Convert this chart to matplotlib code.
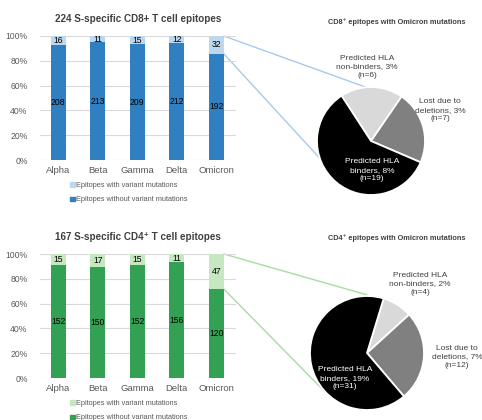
import numpy as np
import matplotlib
matplotlib.use("Agg")
import matplotlib.pyplot as plt
from matplotlib.patches import Patch, ConnectionPatch

plt.rcParams['font.family'] = ['Liberation Sans', 'DejaVu Sans']

variants = ['Alpha', 'Beta', 'Gamma', 'Delta', 'Omicron']

# CD8 epitopes (224 total)
cd8_without = [208, 213, 209, 212, 192]
cd8_with = [16, 11, 15, 12, 32]

# CD4 epitopes (167 total)
cd4_without = [152, 150, 152, 156, 120]
cd4_with = [15, 17, 15, 11, 47]

# Omicron-mutated epitopes breakdown: non-binders, deletions, binders
pie_cd8 = [6, 7, 19]
pie_cd8_pct = [3, 3, 8]
pie_cd4 = [4, 12, 31]
pie_cd4_pct = [2, 7, 19]

txt = '#404040'
tick_col = '#595959'
grid_col = '#d9d9d9'
barW = 0.38

fig = plt.figure(figsize=(4.82, 4.2), dpi=100)


def bar_panel(rect, without, withm, dark, light, title):
    ax = fig.add_axes(rect)
    ax.set_facecolor('none')
    without = np.array(without, dtype=float)
    withm = np.array(withm, dtype=float)
    total = without + withm
    pWithout = without / total
    pWith = withm / total
    x = np.arange(len(variants))
    ax.bar(x, pWithout, width=barW, color=dark, zorder=2)
    ax.bar(x, pWith, width=barW, bottom=pWithout, color=light, zorder=2)
    for i in range(len(x)):
        ax.text(x[i], pWithout[i] / 2, f'{int(without[i])}', ha='center', va='center', fontsize=6.2, color='black')
        ax.text(x[i], pWithout[i] + pWith[i] / 2, f'{int(withm[i])}', ha='center', va='center', fontsize=6.2, color='black')
    ax.set_xlim(-0.46, 4.5)
    ax.set_ylim(0, 1.0)
    ax.set_yticks(np.linspace(0, 1, 6))
    ax.set_yticklabels([f'{int(v)}%' for v in np.linspace(0, 100, 6)], fontsize=6.2, color=tick_col)
    ax.set_xticks(x)
    ax.set_xticklabels(variants, fontsize=6.8, color=tick_col)
    ax.tick_params(axis='x', length=0, pad=4)
    ax.tick_params(axis='y', length=0, pad=9)
    ax.yaxis.grid(True, color=grid_col, linewidth=0.8, zorder=0)
    ax.set_axisbelow(True)
    for s in ax.spines.values():
        s.set_visible(False)
    ax.set_title(title, fontsize=7.1, fontweight='bold', color=txt, pad=10)
    handles = [Patch(color=light, label='Epitopes with variant mutations'),
               Patch(color=dark, label='Epitopes without variant mutations')]
    ax.legend(handles=handles, loc='upper left', bbox_to_anchor=(0.12, -0.125), frameon=False,
              fontsize=5.3, handlelength=0.6, handleheight=0.6, handletextpad=0.25,
              labelspacing=1.0, labelcolor=tick_col)
    return ax, pWithout


def pie_panel(rect, vals, pcts, start, labelPos, title, titleY):
    ax = fig.add_axes(rect)
    ax.pie(vals, colors=['#d9d9d9', '#808080', 'black'], startangle=start, counterclock=False,
           wedgeprops=dict(edgecolor='white', linewidth=1.3))
    ax.set_xlim(-1, 1)
    ax.set_ylim(-1, 1)
    ax.set_aspect('equal')
    names = ['Predicted HLA\nnon-binders, {}%\n(n={})', 'Lost due to\ndeletions, {}%\n(n={})',
             'Predicted HLA\nbinders, {}%\n(n={})']
    cols = [txt, txt, 'white']
    for i in range(3):
        ax.text(labelPos[i][0], labelPos[i][1], names[i].format(pcts[i], vals[i]), ha='center', va='center',
                fontsize=6.0, color=cols[i], linespacing=1.3)
    fig.text(397 / 482, 1 - titleY / 420, title, ha='center', va='center', fontsize=5.3,
             fontweight='bold', color=txt)
    return ax


# top row
barTop, pwTop = bar_panel([40 / 482, 1 - 160 / 420, 196 / 482, 124 / 420], cd8_without, cd8_with,
                          '#2f7fc1', '#bdd7ee', '224 S-specific CD8+ T cell epitopes')
pieTop = pie_panel([(371 - 54) / 482, 1 - (141 + 54) / 420, 108 / 482, 108 / 420], pie_cd8, pie_cd8_pct, 123,
                   [(-0.07, 1.37), (1.28, 0.57), (0.02, -0.54)], 'CD8⁺ epitopes with Omicron mutations', 22)

# bottom row
barBot, pwBot = bar_panel([40 / 482, 1 - 378 / 420, 196 / 482, 124 / 420], cd4_without, cd4_with,
                          '#33a154', '#c5e8c0', '167 S-specific CD4⁺ T cell epitopes')
pieBot = pie_panel([(367 - 57) / 482, 1 - (353 + 57) / 420, 114 / 482, 114 / 420], pie_cd4, pie_cd4_pct, 73,
                   [(0.93, 1.21), (1.58, -0.07), (-0.39, -0.44)], 'CD4⁺ epitopes with Omicron mutations', 238)

# connector lines from omicron bar to pies
for barAx, pieAx, pw, col, ends in [
        (barTop, pieTop, pwTop, '#a9c9ea', [(-0.05, 0.98), (-0.70, -0.59)]),
        (barBot, pieBot, pwBot, '#a8dca2', [(0.0, 1.02), (-0.74, -0.68)])]:
    xr = 4 + barW / 2
    for yA, end in zip([1.0, pw[4]], ends):
        con = ConnectionPatch(xyA=(xr, yA), coordsA=barAx.transData, xyB=end, coordsB=pieAx.transData,
                              color=col, linewidth=1.0, zorder=-1)
        fig.add_artist(con)

fig.savefig('out.png', dpi=100)
